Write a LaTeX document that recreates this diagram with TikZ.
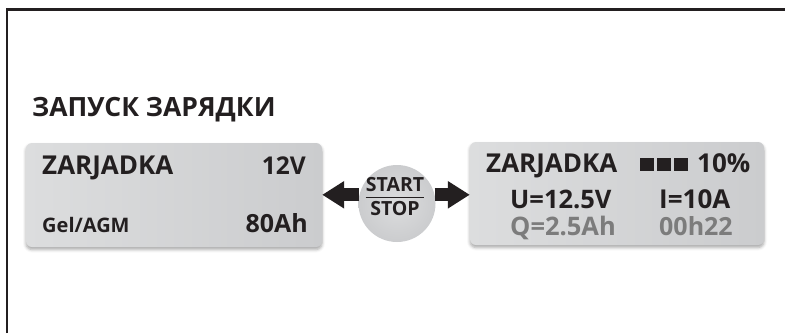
\documentclass[tikz,border=0pt]{standalone}
\usepackage{fontspec}
\setmainfont{Open Sans}
\usetikzlibrary{arrows.meta,shadows.blur}
\begin{document}
\begin{tikzpicture}[x=1pt,y=-1pt,every node/.style={inner sep=0pt,text=ink,font=\bfseries}]
  % Display screens and the start/stop key
  \definecolor{ink}{HTML}{231F20}
  \definecolor{dim}{HTML}{7C7C7C}
  \definecolor{lcdlight}{HTML}{DCDDDE}
  \definecolor{lcddark}{HTML}{CBCCCE}
  \tikzset{
    lcd/.style={rectangle, rounded corners=6pt, left color=lcdlight, right color=lcddark,
      blur shadow={shadow xshift=0pt, shadow yshift=-2.5pt, shadow blur radius=3pt, shadow opacity=35}},
    keybtn/.style={circle, minimum size=77pt, inner color=lcdlight, outer color=lcddark},
    bigarrow/.style={draw=ink, line width=13pt, -{Triangle[length=22pt,width=26pt]}},
    lcdtxt/.style={font=\bfseries\fontsize{#1}{26}\selectfont},
    lcdtxt/.default=25.5,
  }
  \useasboundingbox (0,0) rectangle (785,333);
  \draw[ink, line width=2.5pt] (7,333) |- (785,9.5);

  \node[anchor=base west, font=\bfseries\fontsize{26.5}{30}\selectfont] (title) at (32,116) {ЗАПУСК ЗАРЯДКИ};

  \node[lcd, minimum width=296pt, minimum height=104pt] (lcdL) at (174,195) {};
  \node[lcd, minimum width=294pt, minimum height=103pt] (lcdR) at (617,193.5) {};
  \node[keybtn] (key) at (397,203.5) {};

  \draw[bigarrow] (key.167) -- (lcdL.east |- key.167);
  \draw[bigarrow] (key.13) -- (lcdR.west |- key.13);

  % left screen
  \node[lcdtxt=26, anchor=base west] (modeL) at (42,174) {ZARJADKA};
  \node[lcdtxt=24.5, anchor=base east] (volt) at (306,174) {12V};
  \node[lcdtxt=20, anchor=base west] (batt) at (42,232) {Gel/AGM};
  \node[lcdtxt=25, anchor=base east] (cap) at (308,232) {80Ah};

  % key
  \node[lcdtxt=19.5, anchor=base] (start) at (395,191) {START};
  \node[lcdtxt=19.5, anchor=base] (stop) at (395,215) {STOP};
  \draw[ink, line width=1.6pt] ([yshift=-6pt]start.south west) -- ([yshift=-6pt]start.south east);

  % right screen
  \node[lcdtxt=26, anchor=base west] (modeR) at (486,172) {ZARJADKA};
  \foreach \i in {0,1,2}
    \fill[ink] (640+17*\i,158) rectangle ++(14,13);
  \node[lcdtxt=26, anchor=base west] (pct) at (697,172) {10\%};
  \node[lcdtxt, anchor=base west] (uval) at (510,208) {U=12.5V};
  \node[lcdtxt=26, anchor=base west] (ival) at (659,208) {I=10A};
  \node[lcdtxt, anchor=base west, text=dim] (qval) at (510,235) {Q=2.5Ah};
  \node[lcdtxt=25, anchor=base west, text=dim] (time) at (659,235) {00h22};
\end{tikzpicture}
\end{document}
